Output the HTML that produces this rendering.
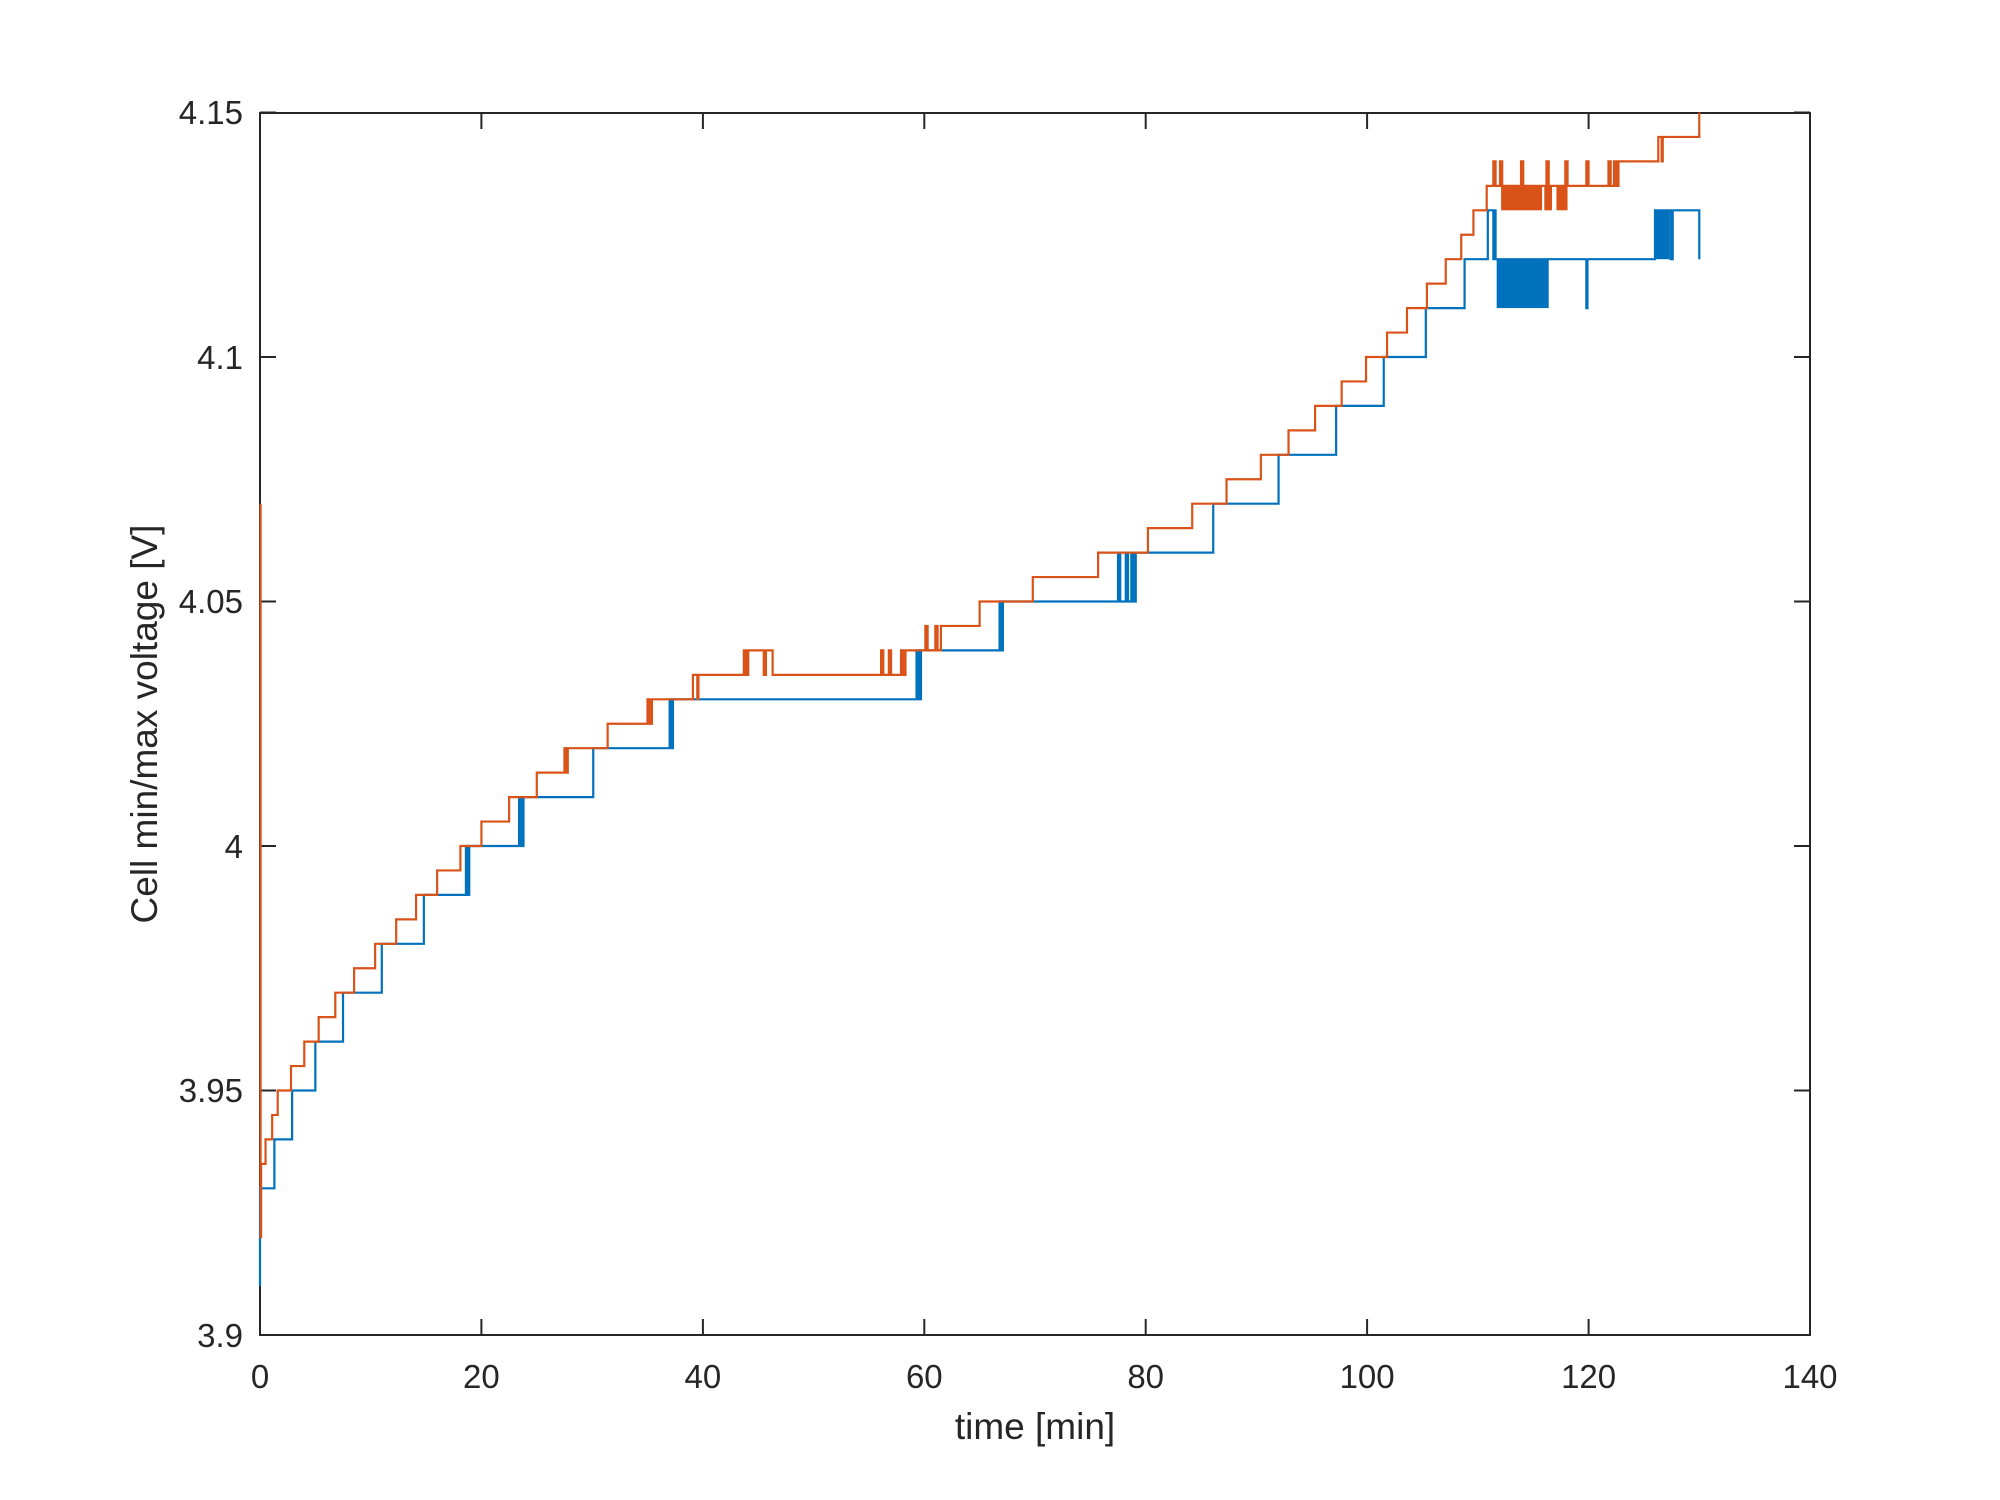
<!DOCTYPE html>
<html><head><meta charset="utf-8"><style>
html,body{margin:0;padding:0;background:#fff;}
svg{display:block;}
text{font-family:"Liberation Sans",sans-serif;fill:#262626;}
</style></head><body>
<svg width="2000" height="1500" viewBox="0 0 2000 1500" xmlns="http://www.w3.org/2000/svg">
<rect width="2000" height="1500" fill="#fff"/>
<!-- axes box -->
<rect x="260" y="113" width="1550" height="1222" fill="none" stroke="#262626" stroke-width="2"/>
<g stroke="#262626" stroke-width="2">
<path d="M260,1335v-16M481.4,1335v-16M702.9,1335v-16M924.3,1335v-16M1145.7,1335v-16M1367.1,1335v-16M1588.6,1335v-16M1810,1335v-16"/>
<path d="M260,113v16M481.4,113v16M702.9,113v16M924.3,113v16M1145.7,113v16M1367.1,113v16M1588.6,113v16M1810,113v16"/>
<path d="M260,1335h16M260,1090.5h16M260,846h16M260,601.5h16M260,357h16M260,112.5h16"/>
<path d="M1810,1335h-16M1810,1090.5h-16M1810,846h-16M1810,601.5h-16M1810,357h-16M1810,112.5h-16"/>
</g>
<g transform="translate(260,1335) scale(11.0714,-4.89)">
<!-- blue min -->
<path fill="none" stroke="#0072BD" stroke-width="2.2" vector-effect="non-scaling-stroke" stroke-linejoin="miter"
d="M0,10 V30 H1.3 V40 H2.9 V50 H5.0 V60 H7.5 V70 H11.0 V80 H14.8 V90 H18.6 V100 H18.8 V90 H18.9 V100 H23.4 V110 H23.6 V100 H23.8 V110 H30.1 V120 H37.0 V130 H37.2 V120 H37.3 V130 H59.3 V140 H59.5 V130 H59.7 V140 H66.8 V150 H67.0 V140 H67.1 V150 H77.5 V160 H77.7 V150 H78.2 V160 H78.4 V150 H78.7 V160 H78.9 V150 H79.1 V160 H86.1 V170 H92.0 V180 H97.2 V190 H101.5 V200 H105.3 V210 H108.8 V220 H110.9 V230 H111.4 V220 H111.5 V230 H111.6 V220 H119.8 V210 H119.9 V220 H126.0 V230 H127.4 V220 H127.6 V230 H130.0 V220"/>
<rect x="111.7" y="210" width="4.7" height="10" fill="#0072BD"/>
<rect x="126.0" y="220" width="1.3" height="10" fill="#0072BD"/>
<!-- red max -->
<path fill="none" stroke="#D95319" stroke-width="2.2" vector-effect="non-scaling-stroke"
d="M0.05,170 V20 H0.1 V35 H0.5 V40 H1.1 V45 H1.6 V50 H2.8 V55 H4.0 V60 H5.3 V65 H6.8 V70 H8.5 V75 H10.4 V80 H12.3 V85 H14.1 V90 H16.0 V95 H18.1 V100 H20.0 V105 H22.5 V110 H25.0 V115 H27.5 V120 H27.7 V115 H27.8 V120 H31.4 V125 H35.0 V130 H35.2 V125 H35.4 V130 H39.1 V135 H39.5 V130 H39.6 V135 H43.7 V140 H43.9 V135 H44.1 V140 H45.5 V135 H45.7 V140 H46.3 V135 H56.1 V140 H56.3 V135 H56.8 V140 H57.0 V135 H57.9 V140 H58.1 V135 H58.3 V140 H60.1 V145 H60.3 V140 H61.0 V145 H61.2 V140 H61.5 V145 H65.0 V150 H69.8 V155 H75.7 V160 H80.2 V165 H84.2 V170 H87.3 V175 H90.4 V180 H92.9 V185 H95.3 V190 H97.7 V195 H99.9 V200 H101.8 V205 H103.6 V210 H105.4 V215 H107.1 V220 H108.5 V225 H109.6 V230 H110.8 V235 H111.4 V240 H111.6 V235 H112.0 V240 H112.2 V235 H113.9 V240 H114.1 V235 H116.2 V240 H116.4 V235 H117.9 V240 H118.1 V235 H119.8 V240 H120.0 V235 H121.8 V240 H122.0 V235 H122.3 V240 H122.5 V235 H122.7 V240 H126.3 V245 H126.6 V240 H126.7 V245 H130.0 V250"/>
<rect x="112.1" y="230" width="3.7" height="5" fill="#D95319"/>
<rect x="116.0" y="230" width="0.7" height="5" fill="#D95319"/>
<rect x="117.1" y="230" width="1.0" height="5" fill="#D95319"/>
</g>
<g font-size="33" text-anchor="middle">
<text x="260" y="1388">0</text>
<text x="481.4" y="1388">20</text>
<text x="702.9" y="1388">40</text>
<text x="924.3" y="1388">60</text>
<text x="1145.7" y="1388">80</text>
<text x="1367.1" y="1388">100</text>
<text x="1588.6" y="1388">120</text>
<text x="1810" y="1388">140</text>
</g>
<g font-size="33" text-anchor="end">
<text x="243" y="1347">3.9</text>
<text x="243" y="1102">3.95</text>
<text x="243" y="858">4</text>
<text x="243" y="613">4.05</text>
<text x="243" y="369">4.1</text>
<text x="243" y="124">4.15</text>
</g>
<text x="1035" y="1439" font-size="37" text-anchor="middle">time [min]</text>
<text transform="translate(157,724) rotate(-90)" font-size="37" text-anchor="middle">Cell min/max voltage [V]</text>
</svg>
</body></html>
